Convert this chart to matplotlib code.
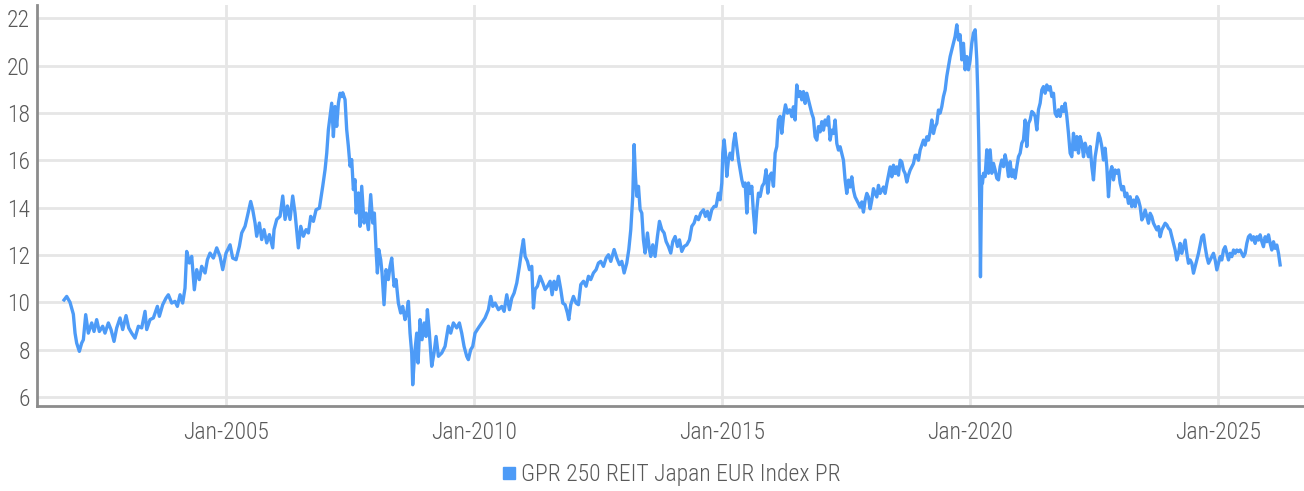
import matplotlib.pyplot as plt
from matplotlib.lines import Line2D

# decimal years and index level
dates = [
    2001.734, 2001.788, 2001.855, 2001.922, 2001.956, 2001.989,
    2002.043, 2002.090, 2002.124, 2002.171, 2002.224, 2002.292, 2002.339, 2002.392,
    2002.446, 2002.513, 2002.560, 2002.628, 2002.681, 2002.742, 2002.796, 2002.863,
    2002.917, 2002.984,
    2003.038, 2003.098, 2003.165, 2003.233, 2003.300, 2003.367, 2003.401, 2003.468,
    2003.535, 2003.616, 2003.656, 2003.723, 2003.790, 2003.837, 2003.905, 2003.972,
    2004.019, 2004.073, 2004.126, 2004.173, 2004.190, 2004.207, 2004.261, 2004.308,
    2004.361, 2004.409, 2004.462, 2004.509, 2004.577, 2004.624, 2004.677, 2004.745,
    2004.812, 2004.879, 2004.933,
    2005.000, 2005.081, 2005.134, 2005.202, 2005.269, 2005.316, 2005.383, 2005.430,
    2005.497, 2005.538, 2005.585, 2005.618, 2005.672, 2005.719, 2005.766, 2005.820,
    2005.874, 2005.941, 2005.968,
    2006.022, 2006.089, 2006.143, 2006.190, 2006.237, 2006.290, 2006.344, 2006.391,
    2006.458, 2006.506, 2006.559, 2006.613, 2006.660, 2006.707, 2006.761, 2006.815,
    2006.882, 2006.949, 2006.996,
    2007.030, 2007.063, 2007.097, 2007.130, 2007.164, 2007.197, 2007.231, 2007.265,
    2007.298, 2007.332, 2007.352, 2007.399, 2007.432, 2007.466, 2007.500, 2007.533,
    2007.567, 2007.600, 2007.621, 2007.668, 2007.701, 2007.735, 2007.782, 2007.822,
    2007.869, 2007.916, 2007.957, 2007.990,
    2008.024, 2008.051, 2008.078, 2008.118, 2008.145, 2008.185, 2008.225, 2008.272,
    2008.306, 2008.340, 2008.387, 2008.427, 2008.474, 2008.521, 2008.561, 2008.608,
    2008.642, 2008.676, 2008.709, 2008.743, 2008.763, 2008.803, 2008.844, 2008.871,
    2008.911, 2008.951, 2008.992,
    2009.032, 2009.059, 2009.099, 2009.146, 2009.193, 2009.234, 2009.281, 2009.348,
    2009.415, 2009.482, 2009.529, 2009.583, 2009.650, 2009.704, 2009.751, 2009.798,
    2009.852, 2009.885, 2009.932, 2009.973,
    2010.020, 2010.087, 2010.154, 2010.221, 2010.289, 2010.336, 2010.377, 2010.424,
    2010.491, 2010.558, 2010.605, 2010.659, 2010.713, 2010.760, 2010.807, 2010.861,
    2010.914, 2010.961, 2010.995,
    2011.029, 2011.076, 2011.116, 2011.163, 2011.197, 2011.230, 2011.277, 2011.331,
    2011.385, 2011.432, 2011.479, 2011.533, 2011.573, 2011.613, 2011.654, 2011.701,
    2011.748, 2011.788, 2011.835, 2011.882, 2011.909, 2011.949,
    2012.003, 2012.057, 2012.104, 2012.151, 2012.205, 2012.258, 2012.306, 2012.352,
    2012.406, 2012.460, 2012.507, 2012.554, 2012.608, 2012.662, 2012.709, 2012.756,
    2012.823, 2012.877, 2012.931, 2012.978,
    2013.025, 2013.078, 2013.119, 2013.159, 2013.199, 2013.226, 2013.253, 2013.280,
    2013.314, 2013.347, 2013.381, 2013.414, 2013.448, 2013.495, 2013.535, 2013.562,
    2013.602, 2013.649, 2013.696, 2013.737, 2013.784, 2013.831, 2013.871, 2013.918,
    2013.965,
    2014.006, 2014.053, 2014.100, 2014.140, 2014.187, 2014.234, 2014.288, 2014.342,
    2014.389, 2014.436, 2014.476, 2014.523, 2014.570, 2014.624, 2014.664, 2014.705,
    2014.745, 2014.792, 2014.839, 2014.879, 2014.926, 2014.960, 2014.994,
    2015.014, 2015.041, 2015.067, 2015.094, 2015.128, 2015.161, 2015.202, 2015.229,
    2015.262, 2015.296, 2015.330, 2015.363, 2015.397, 2015.430, 2015.464, 2015.498,
    2015.531, 2015.565, 2015.598, 2015.632, 2015.666, 2015.699, 2015.733, 2015.766,
    2015.807, 2015.847, 2015.887, 2015.921, 2015.955, 2015.995,
    2016.035, 2016.069, 2016.102, 2016.136, 2016.170, 2016.203, 2016.237, 2016.277,
    2016.317, 2016.358, 2016.371, 2016.405, 2016.438, 2016.472, 2016.505, 2016.539,
    2016.573, 2016.606, 2016.640, 2016.673, 2016.707, 2016.741, 2016.774, 2016.808,
    2016.841, 2016.875, 2016.909, 2016.942, 2016.976,
    2017.009, 2017.043, 2017.077, 2017.110, 2017.144, 2017.177, 2017.211, 2017.245,
    2017.278, 2017.312, 2017.345, 2017.379, 2017.413, 2017.446, 2017.480, 2017.513,
    2017.547, 2017.581, 2017.614, 2017.648, 2017.681, 2017.715, 2017.749, 2017.782,
    2017.816, 2017.849, 2017.883, 2017.917, 2017.950, 2017.984,
    2018.017, 2018.051, 2018.085, 2018.118, 2018.152, 2018.185, 2018.219, 2018.253,
    2018.286, 2018.320, 2018.353, 2018.387, 2018.421, 2018.454, 2018.488, 2018.521,
    2018.555, 2018.589, 2018.622, 2018.656, 2018.689, 2018.723, 2018.757, 2018.790,
    2018.824, 2018.857, 2018.891, 2018.925, 2018.958, 2018.992,
    2019.025, 2019.059, 2019.093, 2019.126, 2019.160, 2019.193, 2019.227, 2019.261,
    2019.294, 2019.328, 2019.361, 2019.395, 2019.429, 2019.462, 2019.496, 2019.529,
    2019.563, 2019.597, 2019.630, 2019.664, 2019.697, 2019.731, 2019.765, 2019.798,
    2019.832, 2019.865, 2019.899, 2019.933, 2019.966,
    2020.000, 2020.033, 2020.067, 2020.101, 2020.134, 2020.154, 2020.175, 2020.195,
    2020.208, 2020.222, 2020.235, 2020.248, 2020.269, 2020.302, 2020.336, 2020.369,
    2020.403, 2020.437, 2020.470, 2020.504, 2020.537, 2020.571, 2020.605, 2020.638,
    2020.672, 2020.705, 2020.739, 2020.773, 2020.806, 2020.840, 2020.873, 2020.907,
    2020.941, 2020.974,
    2021.008, 2021.041, 2021.075, 2021.109, 2021.142, 2021.176, 2021.209, 2021.243,
    2021.277, 2021.310, 2021.344, 2021.377, 2021.411, 2021.445, 2021.478, 2021.512,
    2021.545, 2021.579, 2021.613, 2021.646, 2021.680, 2021.713, 2021.747, 2021.781,
    2021.814, 2021.848, 2021.881, 2021.915, 2021.949, 2021.982,
    2022.016, 2022.049, 2022.083, 2022.117, 2022.150, 2022.184, 2022.217, 2022.251,
    2022.285, 2022.318, 2022.352, 2022.385, 2022.419, 2022.453, 2022.486, 2022.520,
    2022.553, 2022.587, 2022.621, 2022.654, 2022.688, 2022.721, 2022.755, 2022.789,
    2022.822, 2022.856, 2022.889, 2022.923, 2022.957, 2022.990,
    2023.024, 2023.057, 2023.091, 2023.125, 2023.158, 2023.192, 2023.225, 2023.259,
    2023.293, 2023.326, 2023.360, 2023.393, 2023.427, 2023.461, 2023.494, 2023.528,
    2023.561, 2023.595, 2023.629, 2023.662, 2023.696, 2023.729, 2023.763, 2023.797,
    2023.830, 2023.864, 2023.897, 2023.931, 2023.965, 2023.998,
    2024.032, 2024.065, 2024.099, 2024.133, 2024.166, 2024.200, 2024.233, 2024.267,
    2024.301, 2024.334, 2024.368, 2024.401, 2024.435, 2024.469, 2024.502, 2024.536,
    2024.569, 2024.603, 2024.637, 2024.670, 2024.704, 2024.737, 2024.771, 2024.805,
    2024.838, 2024.872, 2024.905, 2024.939, 2024.973,
    2025.006, 2025.040, 2025.073, 2025.107, 2025.141, 2025.174, 2025.208, 2025.241,
    2025.275, 2025.309, 2025.342, 2025.376, 2025.409, 2025.443, 2025.477, 2025.510,
    2025.544, 2025.577, 2025.611, 2025.645, 2025.678, 2025.712, 2025.745, 2025.779,
    2025.813, 2025.846, 2025.880, 2025.913, 2025.947, 2025.981,
    2026.014, 2026.048, 2026.081, 2026.115, 2026.149, 2026.182, 2026.216, 2026.249,
]

values = [
    10.10, 10.25, 10.00, 9.50, 8.70, 8.28,
    7.93, 8.28, 8.42, 9.48, 8.70, 9.13, 8.77, 9.27,
    8.77, 8.99, 8.70, 9.13, 8.85, 8.35, 8.92, 9.34,
    8.85, 9.44,
    8.92, 8.70, 8.49, 8.99, 8.92, 9.62, 8.85, 9.27,
    9.34, 9.83, 9.41, 9.90, 10.18, 10.32, 9.97, 10.04,
    9.83, 10.32, 9.97, 10.60, 11.38, 12.15, 11.66, 11.94,
    10.53, 11.38, 10.96, 11.52, 11.24, 11.80, 12.08, 11.87,
    12.30, 11.94, 11.38,
    12.08, 12.43, 11.87, 11.80, 12.37, 12.93, 13.21, 13.63,
    14.26, 13.91, 13.35, 12.79, 13.35, 12.65, 13.07, 12.51,
    12.86, 12.30, 13.07,
    13.50, 13.63, 14.49, 13.50, 14.07, 13.50, 14.49, 13.77,
    12.30, 13.21, 12.79, 13.07, 12.93, 13.63, 13.42, 13.91,
    13.98, 14.90, 15.60,
    16.30, 17.29, 17.85, 18.41, 17.00, 18.27, 17.43, 18.41,
    18.83, 18.69, 18.85, 18.56, 17.30, 16.59, 15.75, 16.03,
    14.76, 15.18, 13.77, 14.62, 13.21, 14.90, 13.35, 13.77,
    13.07, 14.55, 13.35, 13.77,
    12.23, 11.24, 12.23, 11.80, 11.24, 9.90, 11.38, 10.96,
    11.52, 11.87, 10.68, 10.96, 9.97, 9.55, 9.83, 9.27,
    9.55, 10.04, 8.70, 7.86, 6.52, 7.86, 8.70, 7.44,
    9.27, 8.42, 9.13,
    8.56, 9.69, 8.70, 7.30, 7.86, 8.56, 7.72, 7.86,
    8.14, 8.99, 8.70, 9.13, 8.92, 9.13, 8.70, 8.14,
    7.72, 7.58, 8.00, 8.14,
    8.70, 8.92, 9.13, 9.34, 9.69, 10.25, 9.83, 9.97,
    9.69, 9.83, 9.62, 10.32, 9.69, 10.18, 10.39, 10.82,
    11.52, 12.23, 12.65,
    11.94, 11.73, 11.38, 11.52, 9.76, 10.54, 10.68, 11.10,
    10.82, 10.54, 10.68, 10.89, 10.32, 10.89, 10.54, 11.10,
    10.54, 9.97, 9.90, 9.55, 9.27, 9.90,
    10.25, 9.97, 9.90, 10.75, 10.89, 10.68, 11.10, 10.96,
    11.24, 11.38, 11.66, 11.73, 11.52, 11.87, 12.01, 11.73,
    12.23, 11.87, 11.59, 11.73,
    11.24, 11.66, 12.23, 13.07, 14.48, 16.66, 15.32, 14.48,
    14.90, 13.92, 13.77, 12.64, 12.08, 12.93, 12.22, 11.94,
    12.43, 11.94, 12.78, 13.42, 13.07, 12.93, 12.57, 12.36,
    12.08,
    12.57, 12.78, 12.36, 12.64, 12.15, 12.36, 12.43, 12.64,
    13.21, 13.35, 13.63, 13.49, 13.77, 13.91, 13.63, 13.84,
    13.49, 13.91, 14.05, 14.05, 14.61, 14.33, 15.04,
    16.30, 16.86, 16.30, 15.32, 16.02, 16.30, 16.02, 16.72,
    17.14, 16.58, 16.02, 15.60, 15.18, 14.90, 15.04, 13.77,
    15.04, 14.61, 14.90, 13.77, 12.93, 13.91, 14.61, 14.47,
    14.90, 15.04, 15.60, 14.61, 15.32, 15.46,
    14.90, 16.30, 16.58, 17.71, 17.85, 17.14, 17.85, 18.34,
    17.99, 18.13, 18.12, 17.84, 18.26, 17.70, 19.18, 18.69,
    18.90, 18.55, 18.90, 18.40, 18.83, 18.55, 18.26, 17.98,
    17.77, 16.99, 16.85, 17.42, 17.20,
    17.63, 17.27, 17.70, 17.49, 17.84, 16.85, 17.27, 17.13,
    17.70, 16.71, 16.43, 16.57, 16.29, 16.00, 15.16, 14.60,
    15.16, 14.87, 15.30, 14.73, 14.45, 14.31, 14.17, 14.02,
    14.24, 13.81, 14.31, 14.60, 14.45, 13.95,
    14.31, 14.80, 14.60, 14.45, 14.94, 14.60, 14.73, 14.87,
    14.60, 15.01, 15.37, 15.72, 15.30, 15.79, 15.44, 15.72,
    15.37, 16.00, 15.93, 15.58, 15.44, 15.08, 15.37, 15.58,
    15.72, 15.86, 16.21, 16.21, 16.00, 16.43,
    16.64, 16.85, 16.64, 16.99, 16.85, 17.20, 17.70, 17.13,
    17.42, 17.56, 18.12, 17.99, 18.27, 18.69, 18.97, 19.54,
    19.96, 20.38, 20.66, 20.94, 21.23, 21.72, 21.08, 21.30,
    20.24, 20.94, 19.82, 20.38, 19.82,
    20.24, 20.94, 21.37, 21.51, 20.24, 18.83, 16.72, 13.90,
    11.08, 13.61, 15.31, 15.03, 15.45, 15.31, 16.44, 15.45,
    16.44, 15.45, 15.87, 15.59, 15.24, 15.17, 15.73, 16.01,
    15.73, 16.23, 15.87, 15.31, 15.94, 15.31, 15.59, 15.24,
    15.73, 16.15,
    16.30, 16.72, 16.86, 17.70, 16.58, 17.56, 17.70, 18.06,
    17.99, 17.85, 17.28, 18.13, 18.41, 18.97, 19.11, 18.83,
    19.18, 18.97, 19.11, 18.69, 18.83, 17.99, 17.85, 18.13,
    17.85, 18.27, 18.06, 18.41, 17.85, 17.14,
    16.30, 16.15, 17.14, 16.44, 17.00, 16.30, 17.00, 16.72,
    16.15, 16.72, 16.44, 16.15, 16.58, 15.73, 15.17, 16.15,
    16.58, 17.14, 16.93, 16.58, 16.01, 16.51, 15.73, 14.46,
    15.45, 15.73, 15.17, 15.59, 15.45, 15.59,
    15.03, 14.75, 14.89, 14.46, 14.61, 14.18, 14.46, 14.04,
    14.32, 14.04, 14.46, 14.32, 14.04, 13.48, 13.62, 13.90,
    13.62, 13.34, 13.76, 13.62, 13.34, 13.20, 13.06, 13.20,
    12.77, 13.06, 13.20, 13.34, 13.27, 13.13,
    13.06, 12.77, 12.49, 12.21, 11.79, 12.07, 12.49, 12.07,
    12.35, 12.63, 12.07, 11.65, 11.79, 11.65, 11.23, 11.51,
    11.79, 12.07, 12.42, 12.77, 12.85, 12.35, 11.93, 11.65,
    11.79, 11.93, 12.07, 11.79, 11.37,
    11.65, 11.93, 11.79, 12.21, 12.35, 12.07, 11.79, 12.07,
    11.93, 12.21, 12.07, 12.21, 12.14, 12.21, 12.07, 11.93,
    12.07, 12.49, 12.77, 12.85, 12.63, 12.77, 12.49, 12.77,
    12.63, 12.85, 12.56, 12.35, 12.77, 12.56,
    12.85, 12.49, 12.21, 12.56, 12.28, 12.42, 12.07, 11.58,
]

series_name = "GPR 250 REIT Japan EUR Index PR"
y_ticks = [6, 8, 10, 12, 14, 16, 18, 20, 22]
x_ticks = [2005, 2010, 2015, 2020, 2025]
x_tick_labels = ["Jan-2005", "Jan-2010", "Jan-2015", "Jan-2020", "Jan-2025"]

line_color = "#4d9bf7"
text_color = "#595959"

plt.rcParams["font.family"] = ["Roboto Condensed", "Liberation Sans Narrow", "Roboto"]
plt.rcParams["font.weight"] = "light"

fig = plt.figure(figsize=(13.04, 4.91), dpi=100)
ax = fig.add_axes([0.0284, 0.173, 0.9716, 0.817])

ax.plot(dates, values, color=line_color, linewidth=2.4, solid_joinstyle="round")

ax.set_xlim(2001.19, 2026.73)
ax.set_ylim(5.62, 22.56)

ax.set_yticks(y_ticks)
ax.set_yticklabels([str(v) for v in y_ticks])
ax.set_xticks(x_ticks)
ax.set_xticklabels(x_tick_labels)

ax.grid(True, color="#e6e6e6", linewidth=2)
ax.set_axisbelow(True)

ax.tick_params(axis="both", length=0, labelsize=17, colors=text_color)
ax.tick_params(axis="x", pad=11)
ax.tick_params(axis="y", pad=5)

for side in ["top", "right"]:
    ax.spines[side].set_visible(False)
for side in ["left", "bottom"]:
    ax.spines[side].set_color("#8c8c8c")
    ax.spines[side].set_linewidth(2)

handle = Line2D([], [], linestyle="none", marker="s", markersize=9,
                color=line_color)
fig.legend([handle], [series_name], loc="center", bbox_to_anchor=(0.514, 0.033),
           frameon=False, fontsize=17, handletextpad=0.1, handlelength=0.8,
           labelcolor=text_color)

fig.savefig("out.png", dpi=100)
plt.close()
